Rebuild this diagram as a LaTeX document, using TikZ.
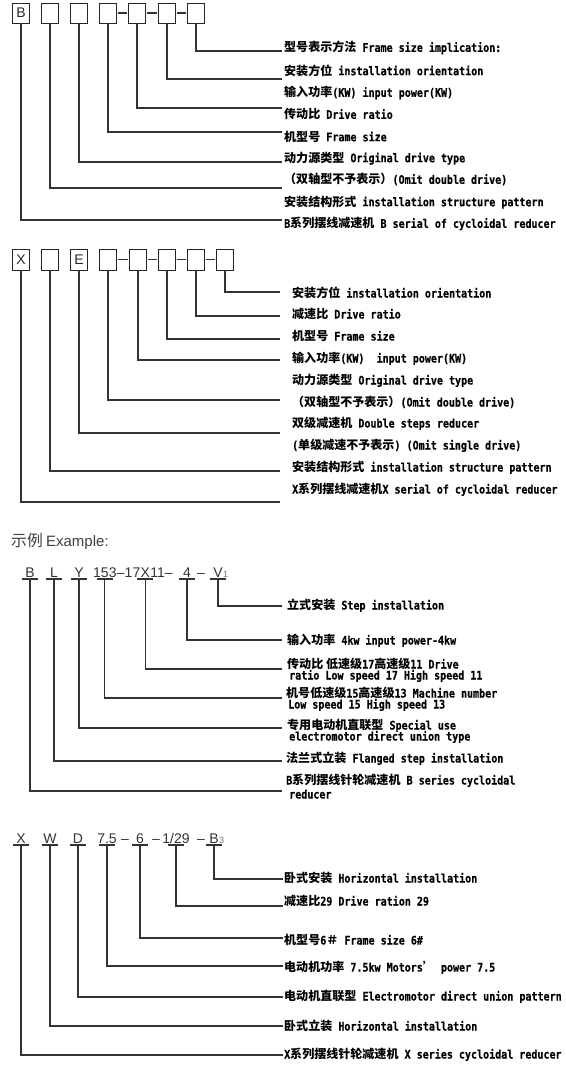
\documentclass[tikz,border=0pt]{standalone}
\usepackage{fontspec}
\newfontfamily\monofont{DejaVu Sans Mono Bold}[FakeStretch=0.85, FakeBold=0.4]
\newfontfamily\cjkfont{Noto Sans CJK SC}[Scale=1.02]
\newfontfamily\arialfont{Liberation Sans}
\newcommand\zh[1]{{\cjkfont\bfseries #1}}
\usepackage{tikz}
\tikzset{
    conn/.style={line width=1.1pt, black!80},
    codebox/.style={draw, line width=0.9pt, black!85, minimum width=17pt,
        minimum height=20pt, inner sep=0pt, font=\arialfont\fontsize{14}{14}\selectfont},
    desc/.style={anchor=base west, inner sep=0pt, font=\monofont\fontsize{11.8}{12}\selectfont},
    code/.style={inner sep=0pt, text=black!80, font=\arialfont\fontsize{14}{14}\selectfont},
    sub/.style={anchor=base west, inner sep=0pt, text=black!55, font=\arialfont\fontsize{9}{9}\selectfont}
}

\begin{document}
\begin{tikzpicture}[x=1pt, y=-1pt]
    \useasboundingbox (0,0) rectangle (565,1073);

    % B model code boxes
    \foreach \n/\x/\t in {1/21/B,2/50/{},3/79/{},4/108/{},5/137/{},6/167/{},7/196/{}}
        \node[codebox] (b\n) at (\x,13) {\t};
    \foreach \a/\b in {4/5,5/6,6/7}
        \draw[conn, shorten <=1pt, shorten >=1pt] (b\a.east) -- (b\b.west);
    \foreach \n/\y in {1/220,2/188,3/162,4/132,5/108,6/79,7/51} {
        \coordinate (bl\n) at (282,\y);
        \draw[conn] (b\n.south) |- (bl\n);
    }
    \node[desc] (bt1) at (284,51.8) {\zh{型号表示方法} Frame size implication:};
    \node[desc] (bt2) at (284,75.2) {\zh{安装方位} installation orientation};
    \node[desc] (bt3) at (284,96.8) {\zh{输入功率}(KW) input power(KW)};
    \node[desc] (bt4) at (284,118.8) {\zh{传动比} Drive ratio};
    \node[desc] (bt5) at (284,141.2) {\zh{机型号} Frame size};
    \node[desc] (bt6) at (284,162.2) {\zh{动力源类型} Original drive type};
    \node[desc] (bt7) at (284,183.8) {\zh{（双轴型不予表示）}(Omit double drive)};
    \node[desc] (bt8) at (284,206.2) {\zh{安装结构形式} installation structure pattern};
    \node[desc] (bt9) at (284,227.8) {B\zh{系列摆线减速机} B serial of cycloidal reducer};

    % X model code boxes
    \foreach \n/\x/\t in {1/21/X,2/50/{},3/79/E,4/108/{},5/138/{},6/167/{},7/196/{},8/225/{}}
        \node[codebox, minimum height=21pt] (x\n) at (\x,259.5) {\t};
    \foreach \a/\b in {4/5,5/6,6/7,7/8}
        \draw[conn, shorten <=1pt, shorten >=1pt] (x\a.east) -- (x\b.west);
    \foreach \n/\y in {1/502,2/471,3/433,4/400,5/360,6/339,7/316,8/292} {
        \coordinate (xl\n) at (280,\y);
        \draw[conn] (x\n.south) |- (xl\n);
    }
    \node[desc] (xt1) at (292,297.5) {\zh{安装方位} installation orientation};
    \node[desc] (xt2) at (292,318.5) {\zh{减速比} Drive ratio};
    \node[desc] (xt3) at (292,340.5) {\zh{机型号} Frame size};
    \node[desc] (xt4) at (292,362.5) {\zh{输入功率}(KW)\ \ input power(KW)};
    \node[desc] (xt5) at (292,384.5) {\zh{动力源类型} Original drive type};
    \node[desc] (xt6) at (292,406.5) {\zh{（双轴型不予表示）}(Omit double drive)};
    \node[desc] (xt7) at (292,427.5) {\zh{双级减速机} Double steps reducer};
    \node[desc] (xt8) at (292,449.5) {(\zh{单级减速不予表示}) (Omit single drive)};
    \node[desc] (xt9) at (292,471.5) {\zh{安装结构形式} installation structure pattern};
    \node[desc] (xt10) at (292,493.5) {X\zh{系列摆线减速机}X serial of cycloidal reducer};

    % Example heading
    \node[anchor=base west, inner sep=0pt, text=black!75] (ex) at (11,546)
        {{\cjkfont\fontsize{15.5}{16}\selectfont 示例} {\arialfont\fontsize{15}{16}\selectfont Example:}};

    % Example 1: B L Y 153-17X11-4-V1
    \node[code, anchor=base] (p1) at (30,577) {B};
    \node[code, anchor=base] (p2) at (54,577) {L};
    \node[code, anchor=base] (p3) at (79,577) {Y};
    \node[code, anchor=base west] (p4) at (93,577) {153};
    \node[code, anchor=base west] (s1) at (p4.base east) {–17};
    \node[code, anchor=base west] (p5) at (s1.base east) {X};
    \node[code, anchor=base west] (s2) at (p5.base east) {11–};
    \node[code, anchor=base] (p6) at (187,577) {4};
    \node[code, anchor=base] (s3) at (201,577) {–};
    \node[code, anchor=base] (p7) at (218,577) {V};
    \node[sub] (p7s) at (p7.base east) {1};
    \foreach \n/\y in {1/791,2/761,3/728,4/698,5/669,6/640,7/606} {
        \coordinate (pl\n) at (282,\y);
        \draw[conn] ([xshift=-8pt,yshift=-2pt]p\n.base) -- ([xshift=8pt,yshift=-2pt]p\n.base);
        \draw[conn] ([yshift=-2pt]p\n.base) |- (pl\n);
    }
    \node[desc] (pt1) at (287,609.5) {\zh{立式安装} Step installation};
    \node[desc] (pt2) at (287,644.5) {\zh{输入功率} 4kw input power-4kw};
    \node[desc] (pt3a) at (287,668.5) {\zh{传动比 低速级}17\zh{高速级}11 Drive};
    \node[desc] (pt3b) at (289,679.5) {ratio Low speed 17 High speed 11};
    \node[desc] (pt4a) at (286,697.5) {\zh{机号低速级}15\zh{高速级}13 Machine number};
    \node[desc] (pt4b) at (288,708.5) {Low speed 15 High speed 13};
    \node[desc] (pt5a) at (287,729.5) {\zh{专用电动机直联型} Special use};
    \node[desc] (pt5b) at (289,740.5) {electromotor direct union type};
    \node[desc] (pt6) at (286,762.5) {\zh{法兰式立装} Flanged step installation};
    \node[desc] (pt7a) at (286,784.5) {B\zh{系列摆线针轮减速机} B series cycloidal};
    \node[desc] (pt7b) at (289,798.5) {reducer};

    % Example 2: X W D 7.5-6-1/29-B3
    \node[code, anchor=base] (w1) at (21,843) {X};
    \node[code, anchor=base] (w2) at (50,843) {W};
    \node[code, anchor=base] (w3) at (78,843) {D};
    \node[code, anchor=base] (w4) at (107,843) {7.5};
    \node[code, anchor=base] (s4) at (125,843) {–};
    \node[code, anchor=base] (w5) at (140,843) {6};
    \node[code, anchor=base] (s5) at (156,843) {–};
    \node[code, anchor=base] (w6) at (176,843) {1/29};
    \node[code, anchor=base] (s6) at (201,843) {–};
    \node[code, anchor=base] (w7) at (214,843) {B};
    \node[sub] (w7s) at (w7.base east) {3};
    \foreach \n/\y in {1/1055,2/1026,3/997,4/966,5/938,6/906,7/879} {
        \coordinate (wl\n) at (283,\y);
        \draw[conn] ([xshift=-8pt,yshift=-2pt]w\n.base) -- ([xshift=8pt,yshift=-2pt]w\n.base);
        \draw[conn] ([yshift=-2pt]w\n.base) |- (wl\n);
    }
    \node[desc] (wt1) at (284,882.5) {\zh{卧式安装} Horizontal installation};
    \node[desc] (wt2) at (284,905.5) {\zh{减速比}29 Drive ration 29};
    \node[desc] (wt3) at (284,944.5) {\zh{机型号}6\zh{＃} Frame size 6\#};
    \node[desc] (wt4) at (284,971.5) {\zh{电动机功率} 7.5kw Motors\zh{’} power 7.5};
    \node[desc] (wt5) at (284,1000.5) {\zh{电动机直联型} Electromotor direct union pattern};
    \node[desc] (wt6) at (284,1030.5) {\zh{卧式立装} Horizontal installation};
    \node[desc] (wt7) at (284,1058.5) {X\zh{系列摆线针轮减速机} X series cycloidal reducer};
\end{tikzpicture}
\end{document}
